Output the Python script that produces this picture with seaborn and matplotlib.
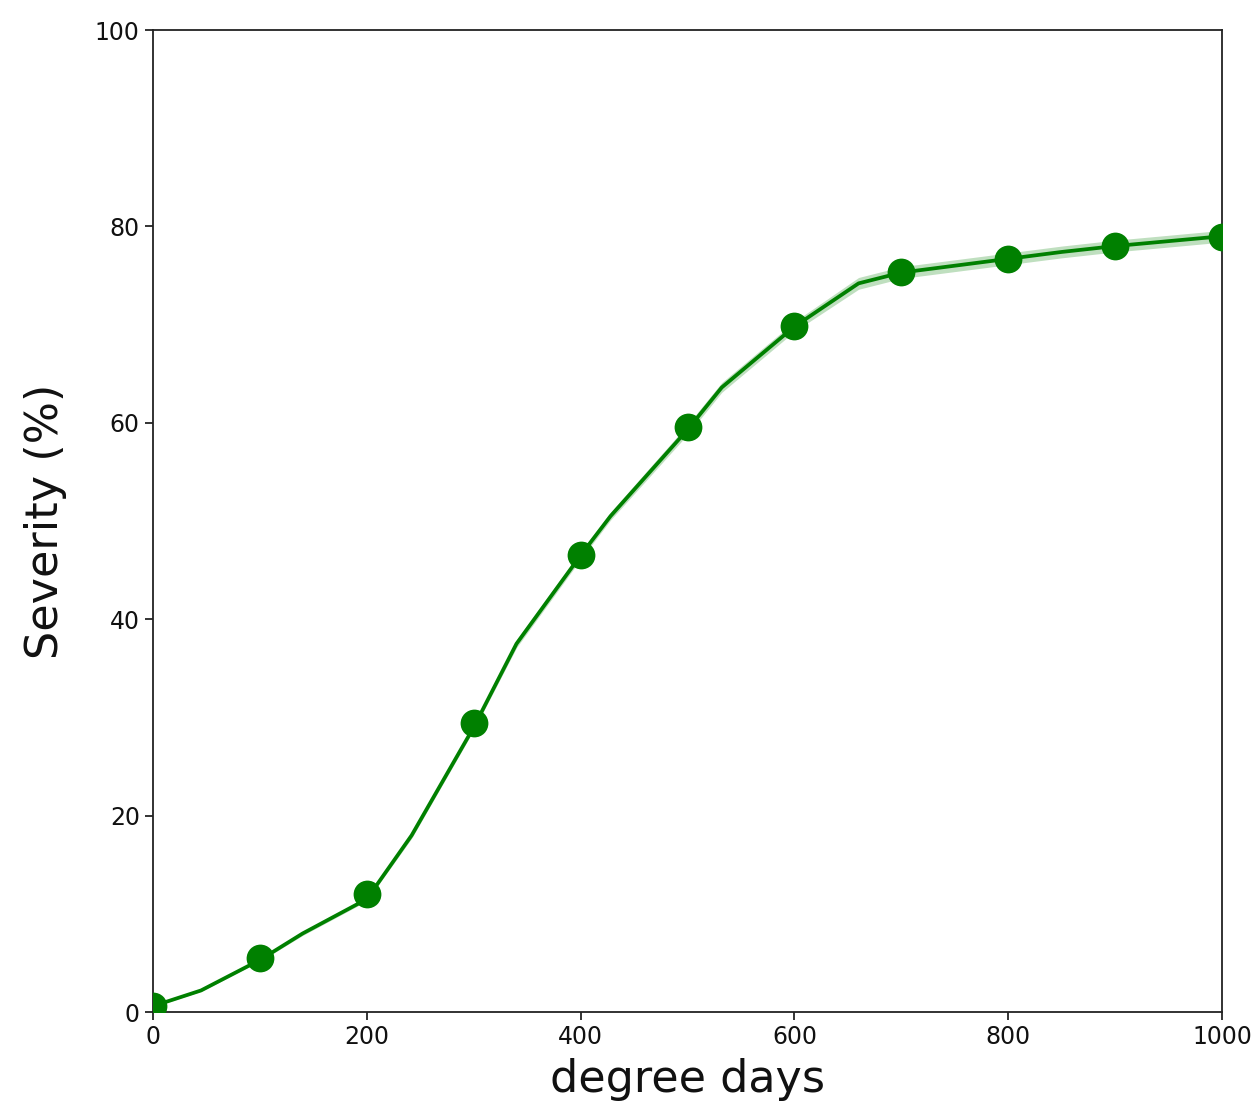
import numpy as np
import pandas as pd
import matplotlib
matplotlib.use("Agg")
import matplotlib.pyplot as plt
import seaborn as sns

# Curve (dense) values
curve_x = [0, 45, 100, 140, 200, 242, 300, 340, 400, 428, 500, 532, 600, 660, 700, 750, 800, 850, 900, 950, 1000]
curve_y = [0.6, 2.2, 5.3, 8.0, 11.5, 18.0, 29.0, 37.5, 46.5, 50.5, 59.3, 63.6, 69.8, 74.2, 75.3, 76.0, 76.7, 77.4, 78.0, 78.5, 79.0]
# band half-width around the curve (read from the faint spread)
band_half = [0.1, 0.1, 0.15, 0.2, 0.2, 0.3, 0.3, 0.4, 0.4, 0.4, 0.5, 0.5, 0.5, 0.6, 0.6, 0.6, 0.6, 0.6, 0.6, 0.6, 0.6]

# Marker values
marker_x = [0, 100, 200, 300, 400, 500, 600, 700, 800, 900, 1000]
marker_y = [0.6, 5.5, 12.0, 29.4, 46.5, 59.6, 69.9, 75.4, 76.7, 78.0, 78.9]

x_ticks = [0, 200, 400, 600, 800, 1000]
y_ticks = [0, 20, 40, 60, 80, 100]

sns.set_style("ticks")
plt.rcParams['font.family'] = ['DejaVu Sans']

fig = plt.figure(figsize=(12.57, 11.2), dpi=100)
ax = fig.add_axes([0.1217, 0.0964, 0.8505, 0.8768])

green = "#008000"
cdf = pd.DataFrame({"x": curve_x, "y": curve_y})
lo = np.array(curve_y) - np.array(band_half)
hi = np.array(curve_y) + np.array(band_half)
ax.fill_between(curve_x, lo, hi, color=green, alpha=0.25, linewidth=0)
sns.lineplot(data=cdf, x="x", y="y", ax=ax, color=green, linewidth=2.7)

mdf = pd.DataFrame({"x": marker_x, "y": marker_y})
sns.scatterplot(data=mdf, x="x", y="y", ax=ax, color=green, s=400, edgecolor=green, linewidth=0, zorder=5)

ax.set_xlim(0, 1000)
ax.set_ylim(0, 100)
ax.set_xticks(x_ticks)
ax.set_yticks(y_ticks)
ax.tick_params(labelsize=17, length=6, width=1.2, colors="#111111")
for s in ax.spines.values():
    s.set_linewidth(1.3)
    s.set_color("#222222")
ax.set_xlabel("degree days", fontsize=32, labelpad=6, color="#111111")
ax.set_ylabel("Severity (%)", fontsize=32, labelpad=20, color="#111111")

fig.savefig("out.png", dpi=100)
